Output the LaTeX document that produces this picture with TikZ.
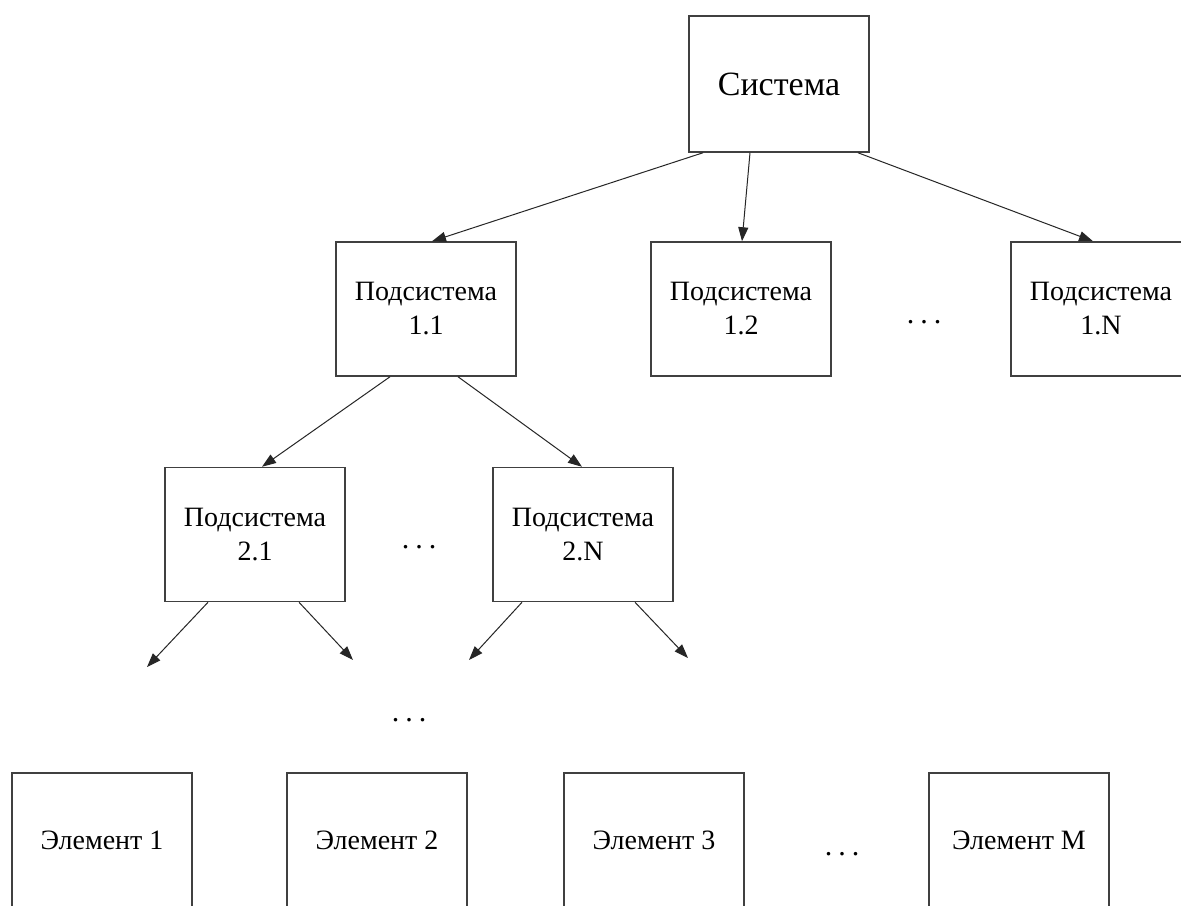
\documentclass[tikz,border=0pt]{standalone}
\usepackage{fontspec}
\setmainfont{Liberation Serif}
\usetikzlibrary{arrows.meta}
\newcommand{\tridots}{.\hspace{3pt}.\hspace{3pt}.}
\begin{document}
\begin{tikzpicture}[x=0.5pt,y=-0.5pt,
  box/.style={draw=black!75,line width=0.75pt,fill=white,minimum width=90pt,minimum height=67pt,inner sep=0pt,align=center,font=\fontsize{14pt}{17pt}\selectfont},
  bigbox/.style={box,minimum height=68pt,font=\fontsize{17pt}{20pt}\selectfont},
  dotsnode/.style={inner sep=0pt,font=\fontsize{15pt}{17pt}\selectfont},
  arr/.style={-{Triangle[length=7pt,width=5pt]},line width=0.5pt,draw=black!85}]
\useasboundingbox (0,0) rectangle (1181,905);
\fill[white] (0,0) rectangle (1181,905);
% nodes
\node[bigbox] (sys) at (779,84) {Система};
\node[box] (s11) at (426,309) {Подсистема\\1.1};
\node[box] (s12) at (741,309) {Подсистема\\1.2};
\node[box] (s1n) at (1101,309) {Подсистема\\1.N};
\node[box] (s21) at (255,534.5) {Подсистема\\2.1};
\node[box] (s2n) at (583,534.5) {Подсистема\\2.N};
\node[box] (e1) at (102,840) {Элемент 1};
\node[box] (e2) at (377,840) {Элемент 2};
\node[box] (e3) at (654,840) {Элемент 3};
\node[box] (em) at (1019,840) {Элемент M};
\node[dotsnode] (d1) at (924,322) {\tridots};
\node[dotsnode] (d2) at (419,547) {\tridots};
\node[dotsnode] (d3) at (409,720) {\tridots};
\node[dotsnode] (d4) at (842,854) {\tridots};
% free ends
\coordinate (f1) at (147,667);
\coordinate (f2) at (353,660);
\coordinate (f3) at (469,660);
\coordinate (f4) at (688,658);
% connectors
\draw[arr] ([xshift=-38pt]sys.south) -- ([xshift=3pt]s11.north);
\draw[arr] ([xshift=-14.5pt]sys.south) -- ([xshift=0.5pt]s12.north);
\draw[arr] ([xshift=39.5pt]sys.south) -- ([xshift=-4pt]s1n.north);
\draw[arr] ([xshift=-18pt]s11.south) -- ([xshift=3.5pt]s21.north);
\draw[arr] ([xshift=16pt]s11.south) -- ([xshift=-0.5pt]s2n.north);
\draw[arr] ([xshift=-23.5pt]s21.south) -- (f1);
\draw[arr] ([xshift=22pt]s21.south) -- (f2);
\draw[arr] ([xshift=-30.5pt]s2n.south) -- (f3);
\draw[arr] ([xshift=26pt]s2n.south) -- (f4);
\end{tikzpicture}
\end{document}
